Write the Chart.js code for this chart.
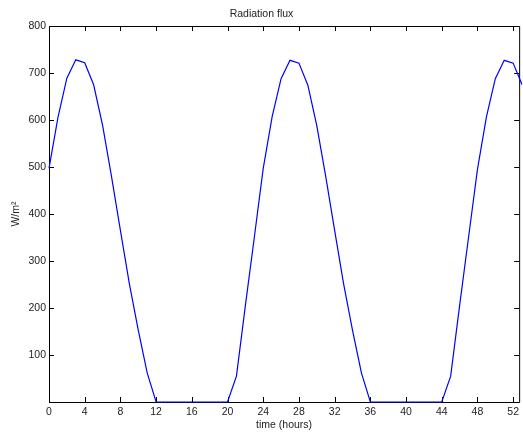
<!DOCTYPE html>
<html>
<head>
<meta charset="utf-8">
<script src="https://cdn.jsdelivr.net/npm/chart.js@4"></script>
<style>
  html, body { margin: 0; padding: 0; background: #fff; }
  #wrap { width: 523px; height: 433px; }
</style>
</head>
<body>
<div id="wrap"><canvas id="grafica"></canvas></div>
<script>
// ===============================
// DATA
// ===============================
const hours = [
  0, 1, 2, 3, 4, 5, 6, 7, 8, 9, 10, 11, 12, 13, 14, 15, 16, 17,
  18, 19, 20, 21, 22, 23, 24, 25, 26, 27, 28, 29, 30, 31, 32, 33, 34, 35,
  36, 37, 38, 39, 40, 41, 42, 43, 44, 45, 46, 47, 48, 49, 50, 51, 52, 53
];
const flux = [
  497, 605, 689, 728, 722, 675, 589, 480, 365, 252, 153, 62, 0, 0, 0, 0, 0, 0,
  0, 0, 0, 55, 205, 350, 497, 607, 688, 727, 721, 674, 588, 480, 365, 252, 153, 62,
  0, 0, 0, 0, 0, 0, 0, 0, 0, 55, 205, 350, 495, 606, 688, 727, 721, 675
];
const xTicks = { min: 0, max: 52.67, step: 4 };
const yTicks = { min: 0, max: 800, step: 100 };
const chartTitle = "Radiation flux";
const xLabel = "time (hours)";
const yLabel = "W/m\u00B2";

const puntos = hours.map((h, i) => ({ x: h, y: flux[i] }));
const fuente = { family: "'Liberation Sans', Arial, Helvetica, sans-serif", size: 10.5 };

// ===============================
// BOX + INWARD TICKS (matlab style)
// ===============================
const cajaMatlab = {
  id: "cajaMatlab",
  beforeDatasetsDraw(chart) {
    const { ctx, chartArea: a, scales: { x, y } } = chart;
    const len = 5;
    ctx.save();
    ctx.strokeStyle = "#000";
    ctx.lineWidth = 1;
    ctx.beginPath();
    ctx.rect(a.left + 0.5, a.top + 0.5, a.right - a.left, a.bottom - a.top);
    x.ticks.forEach(t => {
      const px = Math.round(x.getPixelForValue(t.value)) + 0.5;
      ctx.moveTo(px, a.bottom); ctx.lineTo(px, a.bottom - len);
      ctx.moveTo(px, a.top); ctx.lineTo(px, a.top + len);
    });
    y.ticks.forEach(t => {
      const py = Math.round(y.getPixelForValue(t.value)) + 0.5;
      ctx.moveTo(a.left, py); ctx.lineTo(a.left + len, py);
      ctx.moveTo(a.right, py); ctx.lineTo(a.right - len, py);
    });
    ctx.stroke();
    ctx.restore();
  }
};

// ===============================
// CHART
// ===============================
new Chart(document.getElementById("grafica"), {
  type: "line",
  data: {
    datasets: [{
      data: puntos,
      borderColor: "#0000ff",
      borderWidth: 1.2,
      pointRadius: 0,
      tension: 0,
      fill: false,
      clip: 3
    }]
  },
  options: {
    responsive: true,
    maintainAspectRatio: false,
    animation: false,
    layout: { padding: 0 },
    plugins: {
      legend: { display: false },
      tooltip: { enabled: false },
      title: {
        display: true,
        text: chartTitle,
        color: "#222",
        font: { ...fuente, weight: "normal" },
        padding: { top: 8, bottom: 5.4 }
      }
    },
    scales: {
      x: {
        type: "linear",
        min: xTicks.min,
        max: xTicks.max,
        grid: { display: false, drawTicks: false },
        border: { display: false },
        ticks: {
          stepSize: xTicks.step,
          includeBounds: false,
          autoSkip: false,
          maxRotation: 0,
          padding: 4,
          color: "#222",
          font: fuente
        },
        title: {
          display: true,
          text: xLabel,
          color: "#222",
          font: fuente,
          padding: { top: 0, bottom: 2 }
        },
        afterFit(scale) { scale.height = 31; }
      },
      y: {
        min: yTicks.min,
        max: yTicks.max,
        grid: { display: false, drawTicks: false },
        border: { display: false },
        ticks: {
          stepSize: yTicks.step,
          padding: 3,
          color: "#222",
          font: fuente,
          callback: v => (v === 0 ? "" : v)
        },
        title: {
          display: true,
          text: yLabel,
          color: "#222",
          font: fuente,
          padding: { top: 10, bottom: 0 }
        },
        afterFit(scale) { scale.width = 49; }
      }
    }
  },
  plugins: [cajaMatlab]
});
</script>
</body>
</html>
